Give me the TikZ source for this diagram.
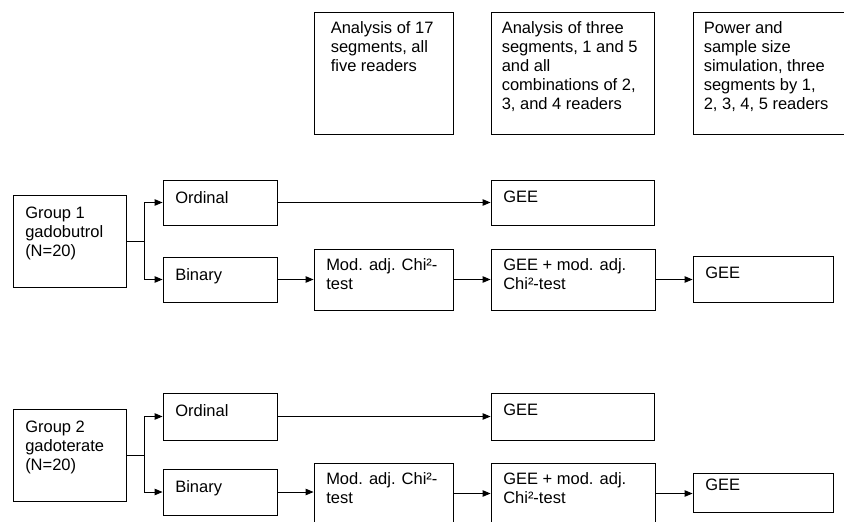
\documentclass[tikz,border=0pt]{standalone}
\usepackage{fontspec}
\setmainfont{Liberation Sans}
\usetikzlibrary{arrows.meta}

\begin{document}
\begin{tikzpicture}[x=1pt,y=-1pt,
  stage/.style={draw, line width=0.9pt, inner sep=0pt},
  txt/.style={anchor=north west, inner sep=0pt, align=left,
    font=\fontsize{16.5}{19}\selectfont},
  boxtext/.style={txt, xshift=12.5pt, yshift=-11.5pt},
  toptext/.style={txt, xshift=#1, yshift=-10pt},
  toptext/.default=11pt,
  arr/.style={-{Triangle[length=8pt,width=6.5pt]}, line width=0.9pt}]

\useasboundingbox (0,0) rectangle (844,522);
\clip (0,0) rectangle (844,522);

% analysis steps
\node[stage, minimum width=139pt, minimum height=122pt,
  label={[toptext=17pt]north west:Analysis of 17\\segments, all\\five readers}] (an1) at (383.5,73) {};
\node[stage, minimum width=163pt, minimum height=122pt,
  label={[toptext]north west:Analysis of three\\segments, 1 and 5\\and all\\combinations of 2,\\3, and 4 readers}] (an2) at (572.5,73) {};
\node[stage, minimum width=177pt, minimum height=122pt,
  label={[toptext]north west:Power and\\sample size\\simulation, three\\segments by 1,\\2, 3, 4, 5 readers}] (an3) at (781.5,73) {};

% group 1
\node[stage, minimum width=113pt, minimum height=92pt,
  label={[txt, xshift=12.5pt, yshift=-12.5pt]north west:Group 1\\gadobutrol\\(N=20)}] (g1) at (69.5,241) {};
\node[stage, minimum width=114pt, minimum height=45pt,
  label={[boxtext]north west:Ordinal}] (or1) at (220,202.5) {};
\node[stage, minimum width=114pt, minimum height=45pt,
  label={[boxtext]north west:Binary}] (bi1) at (220,279.5) {};
\node[stage, minimum width=163pt, minimum height=45pt,
  label={[boxtext]north west:GEE}] (ge1) at (572.5,202.5) {};
\node[stage, minimum width=139pt, minimum height=61pt,
  label={[boxtext, yshift=1.5pt]north west:Mod. adj. Chi²-\\test}] (mo1) at (383.5,279.5) {};
\node[stage, minimum width=164pt, minimum height=61pt,
  label={[boxtext, yshift=1.5pt]north west:GEE + mod. adj.\\Chi²-test}] (gm1) at (573,279.5) {};
\node[stage, minimum width=140pt, minimum height=46pt,
  label={[boxtext]north west:GEE}] (gf1) at (763,279) {};

\draw[arr] (g1.east) -- ++(18,0) coordinate (s1) |- (or1.west);
\draw[arr] (s1) |- (bi1.west);
\draw[arr] (or1.east) -- (or1.east -| ge1.west);
\draw[arr] (bi1.east) -- (bi1.east -| mo1.west);
\draw[arr] (mo1.east) -- (mo1.east -| gm1.west);
\draw[arr] (gm1.east) -- (gm1.east -| gf1.west);

% group 2
\node[stage, minimum width=113pt, minimum height=92pt,
  label={[txt, xshift=12.5pt, yshift=-12.5pt]north west:Group 2\\gadoterate\\(N=20)}] (g2) at (69.5,455) {};
\node[stage, minimum width=114pt, minimum height=47pt,
  label={[boxtext]north west:Ordinal}] (or2) at (220,416.5) {};
\node[stage, minimum width=114pt, minimum height=46pt,
  label={[boxtext]north west:Binary}] (bi2) at (220,492) {};
\node[stage, minimum width=163pt, minimum height=47pt,
  label={[boxtext]north west:GEE}] (ge2) at (572.5,416.5) {};
\node[stage, minimum width=139pt, minimum height=61pt,
  label={[boxtext, yshift=1.5pt]north west:Mod. adj. Chi²-\\test}] (mo2) at (383.5,493.5) {};
\node[stage, minimum width=164pt, minimum height=61pt,
  label={[boxtext, yshift=1.5pt]north west:GEE + mod. adj.\\Chi²-test}] (gm2) at (573,493.5) {};
\node[stage, minimum width=140pt, minimum height=39pt,
  label={[boxtext, yshift=5.5pt]north west:GEE}] (gf2) at (763,492.5) {};

\draw[arr] (g2.east) -- ++(18,0) coordinate (s2) |- (or2.west);
\draw[arr] (s2) |- (bi2.west);
\draw[arr] (or2.east) -- (or2.east -| ge2.west);
\draw[arr] (bi2.east) -- (bi2.east -| mo2.west);
\draw[arr] (mo2.east) -- (mo2.east -| gm2.west);
\draw[arr] (gm2.east) -- (gm2.east -| gf2.west);

\end{tikzpicture}
\end{document}
